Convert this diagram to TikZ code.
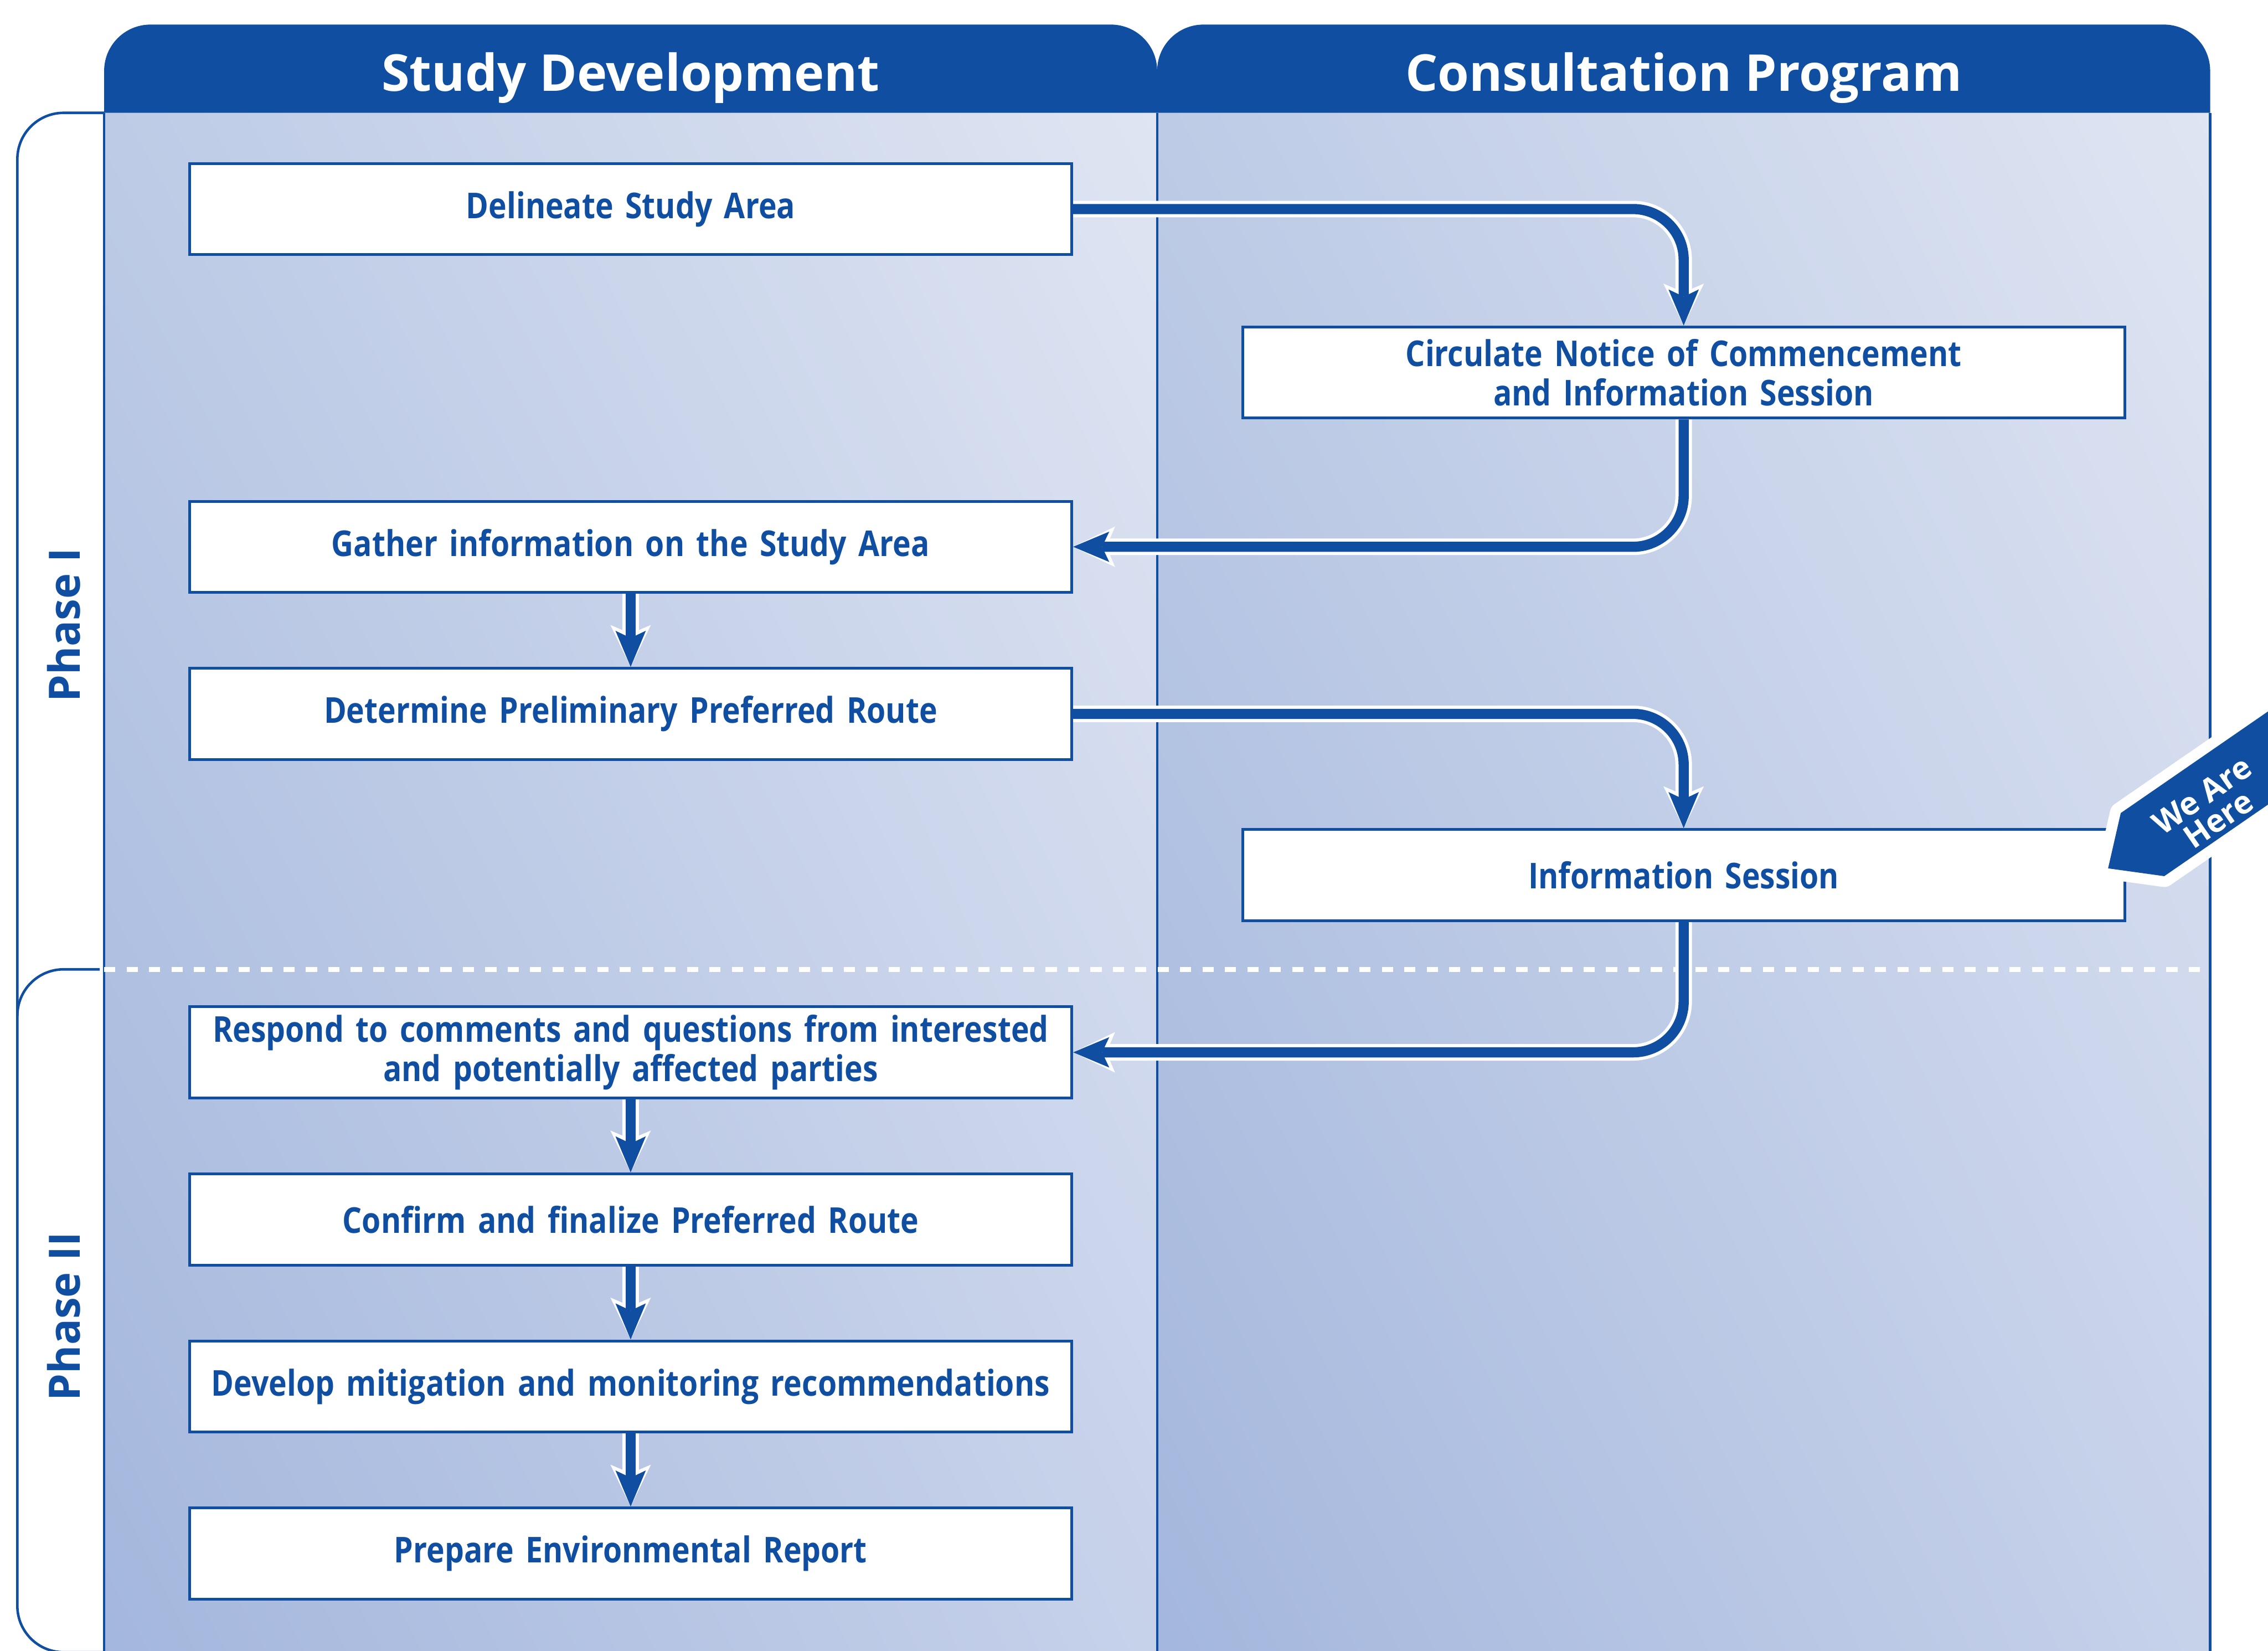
\documentclass[tikz,border=0pt]{standalone}
\usepackage{fontspec}
\setmainfont{Open Sans}
\newfontfamily\condfont[FakeStretch=0.86]{Open Sans}
\usepackage{tikz}
\usetikzlibrary{shapes.symbols,arrows.meta,shadings}
\definecolor{dkblue}{HTML}{0F4EA1}
\definecolor{panelul}{HTML}{BDCBE6}
\definecolor{panelur}{HTML}{DFE5F2}
\definecolor{panelll}{HTML}{A3B6DC}
\definecolor{panellr}{HTML}{C6D1EA}
\tikzstyle{block} = [rectangle, draw=dkblue, line width=1.1pt, fill=white,
    text=dkblue, text width=11.9cm, text centered, inner sep=0pt,
    minimum width=12.2cm, minimum height=1.26cm,
    font=\condfont\bfseries\fontsize{14}{15.5}\selectfont]
\tikzstyle{line} = [draw=dkblue, line width=4pt, rounded corners=0.7cm,
    -{Stealth[length=0.5cm, width=0.42cm, inset=0.1cm, line width=0pt]},
    preaction={draw=white, line width=6.5pt,
    -{Stealth[length=0.58cm, width=0.56cm, inset=0.12cm, line width=0pt]}}]
\tikzstyle{panel} = [upper left=panelul, upper right=panelur,
    lower left=panelll, lower right=panellr]
\tikzstyle{frame} = [draw=dkblue, line width=1pt]
\tikzstyle{head} = [text=white, anchor=base, font=\bfseries\fontsize{20}{24}\selectfont]
\tikzstyle{phase} = [text=dkblue, rotate=90, font=\bfseries\fontsize{17}{20}\selectfont]
\tikzstyle{sep} = [draw=white, line width=1.9pt, dash pattern=on 0.155cm off 0.155cm]
\tikzstyle{tag} = [signal, signal to=west, signal pointer angle=85, fill=dkblue,
    inner sep=0pt, minimum width=4.5cm, minimum height=1.06cm,
    preaction={draw=white, line width=0.3cm, line join=round}]
\tikzstyle{tagtext} = [text=white, align=center, inner sep=0pt,
    font=\bfseries\fontsize{12.5}{11.5}\selectfont]

\begin{document}
\begin{tikzpicture}[x=0.02cm, y=0.02cm, node distance=2.31cm]
        \useasboundingbox (0,0) rectangle (1568,-1141);
        \clip (0,0) rectangle (1568,-1141);
        % Column panels
        \shade [panel] (72,-78) rectangle (800,-1160);
        \shade [panel] (800,-78) rectangle (1528,-1160);
        \draw [frame] (72,-1160) -- (72,-78);
        \draw [frame] (800,-1160) -- (800,-78);
        \draw [frame] (1528,-1160) -- (1528,-78);
        % Column headers
        \fill [dkblue] (72,-78) -- (72,-49) arc[start angle=180, end angle=90, radius=32]
            -- (768,-17) arc[start angle=90, end angle=0, radius=32] -- (800,-78) -- cycle;
        \fill [dkblue] (800,-78) -- (800,-49) arc[start angle=180, end angle=90, radius=32]
            -- (1496,-17) arc[start angle=90, end angle=0, radius=32] -- (1528,-78) -- cycle;
        \node [head] (study) at (436,-63) {Study Development};
        \node [head] (consult) at (1164,-63) {Consultation Program};
        % Phase brackets
        \draw [frame] (72,-78) -- (44,-78) arc[start angle=90, end angle=180, radius=32] -- (12,-702);
        \draw [frame] (69,-670) -- (44,-670) arc[start angle=90, end angle=180, radius=32]
            -- (12,-1110) arc[start angle=180, end angle=270, radius=32] -- (72,-1142);
        \node [phase] (phaseone) at (44,-432) {Phase I};
        \node [phase] (phasetwo) at (44,-910) {Phase II};
        \path [sep] (72,-670) -- (1528,-670);
        % Place nodes
        \node [block] at (436,-144.5) (delineate) {Delineate Study Area};
        \node [block, below of=delineate, node distance=4.67cm] (gather) {Gather information on the Study Area};
        \node [block, below of=gather] (determine) {Determine Preliminary Preferred Route};
        \node [block, below of=determine, node distance=4.68cm] (respond) {Respond to comments and questions from interested\\and potentially affected parties};
        \node [block, below of=respond] (confirm) {Confirm and finalize Preferred Route};
        \node [block, below of=confirm] (develop) {Develop mitigation and monitoring recommendations};
        \node [block, below of=develop] (prepare) {Prepare Environmental Report};
        \node [block] at (1164,-257.5) (circulate) {Circulate Notice of Commencement\\and Information Session};
        \node [block, below of=circulate, node distance=6.95cm] (session) {Information Session};
        % Draw edges
        \path [line] (delineate) -| (circulate);
        \path [line] (circulate) |- (gather);
        \path [line] (gather) -- (determine);
        \path [line] (determine) -| (session);
        \path [line] (session) |- (respond);
        \path [line] (respond) -- (confirm);
        \path [line] (confirm) -- (develop);
        \path [line] (develop) -- (prepare);
        % Marker
        \node [tag, rotate=34.6, anchor=west] at (1457,-600.5) (here) {};
        \node [tagtext, rotate=34.6] at (1528,-558) (herelabel) {We Are\\Here};
    \end{tikzpicture}
\end{document}
